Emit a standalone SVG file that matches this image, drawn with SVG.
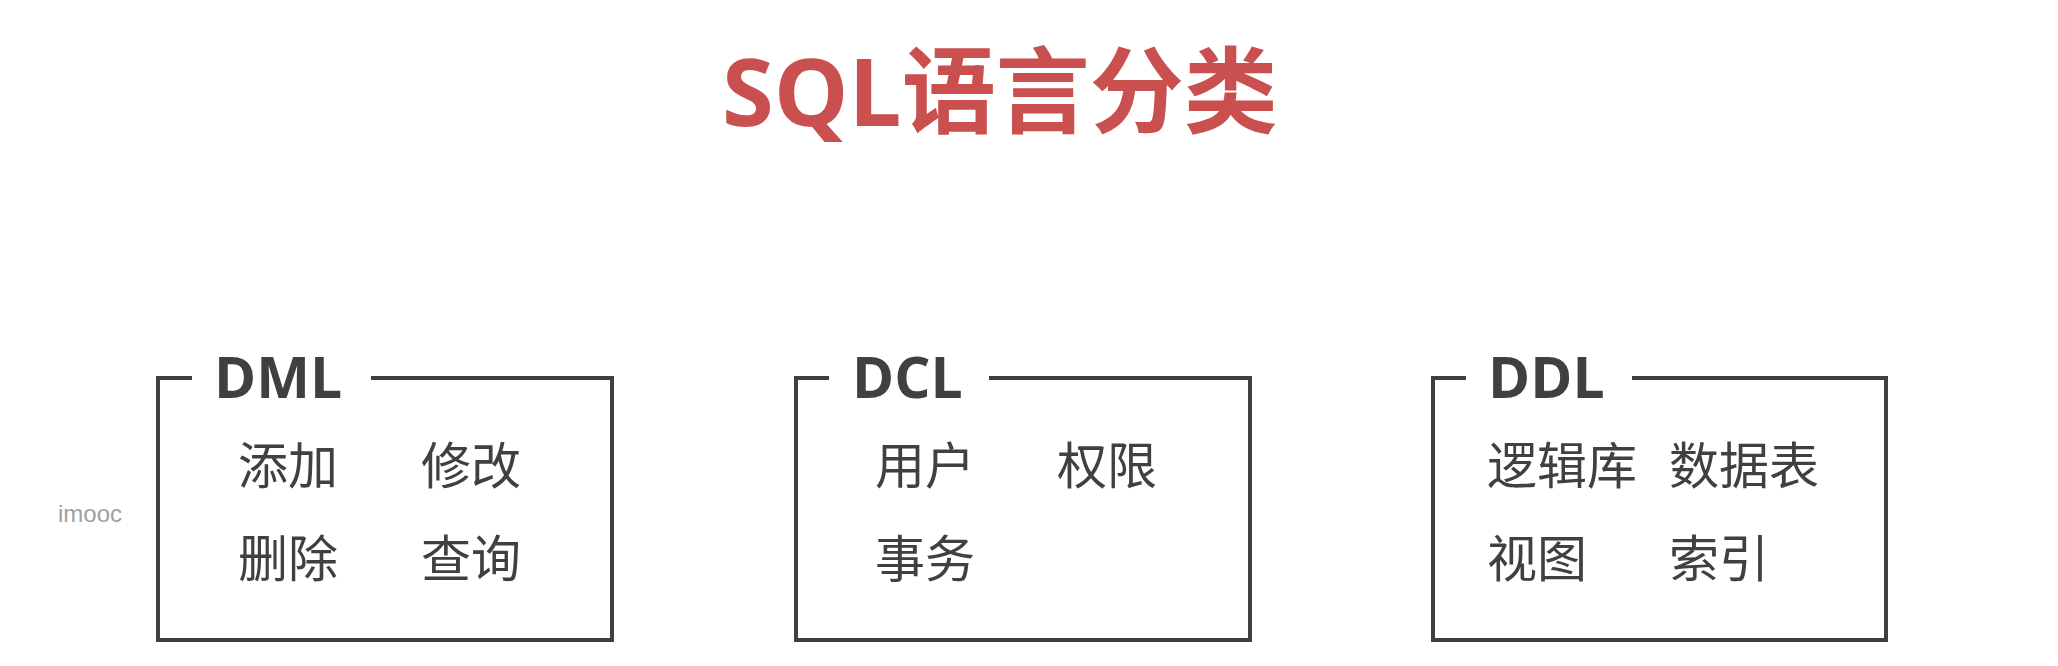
<svg xmlns="http://www.w3.org/2000/svg" width="2058" height="666" viewBox="0 0 2058 666">
<style>
.frame{fill:none;stroke:#404040;stroke-width:4;stroke-linejoin:miter}
.head{font-family:"Open Sans","Liberation Sans",sans-serif;font-weight:700;font-size:57px;fill:#404040}
.item{font-family:"Noto Sans CJK SC","Noto Sans",sans-serif;font-weight:400;font-size:50px;fill:#404040}
.title{font-family:"Open Sans","Noto Sans CJK SC",sans-serif;font-weight:700;font-size:94px;fill:#C9504F}
.mark{font-family:"Liberation Sans","Noto Sans",sans-serif;font-size:24px;fill:#A0A0A0}
</style>
<rect width="2058" height="666" fill="#FFFFFF"/>
<g id="title"><text class="title" x="722" y="126">SQL<tspan font-family="Noto Sans CJK SC, sans-serif">语言分类</tspan></text></g>
<g id="watermark"><text class="mark" x="58" y="522">imooc</text></g>
<g id="connectors"></g>
<g id="dml">
<path class="frame" d="M192,378 H158 V640 H612 V378 H371"/>
<text class="head" x="214" y="398">DML</text>
<text class="item" x="238" y="484">添加</text>
<text class="item" x="421" y="484">修改</text>
<text class="item" x="238" y="577">删除</text>
<text class="item" x="421" y="577">查询</text>
</g>
<g id="dcl">
<path class="frame" d="M829,378 H796 V640 H1250 V378 H989"/>
<text class="head" x="852" y="398">DCL</text>
<text class="item" x="875" y="484">用户</text>
<text class="item" x="1057" y="484">权限</text>
<text class="item" x="875" y="577">事务</text>
</g>
<g id="ddl">
<path class="frame" d="M1466,378 H1433 V640 H1886 V378 H1632"/>
<text class="head" x="1488" y="398">DDL</text>
<text class="item" x="1487" y="484">逻辑库</text>
<text class="item" x="1669" y="484">数据表</text>
<text class="item" x="1487" y="577">视图</text>
<text class="item" x="1669" y="577">索引</text>
</g>
</svg>
